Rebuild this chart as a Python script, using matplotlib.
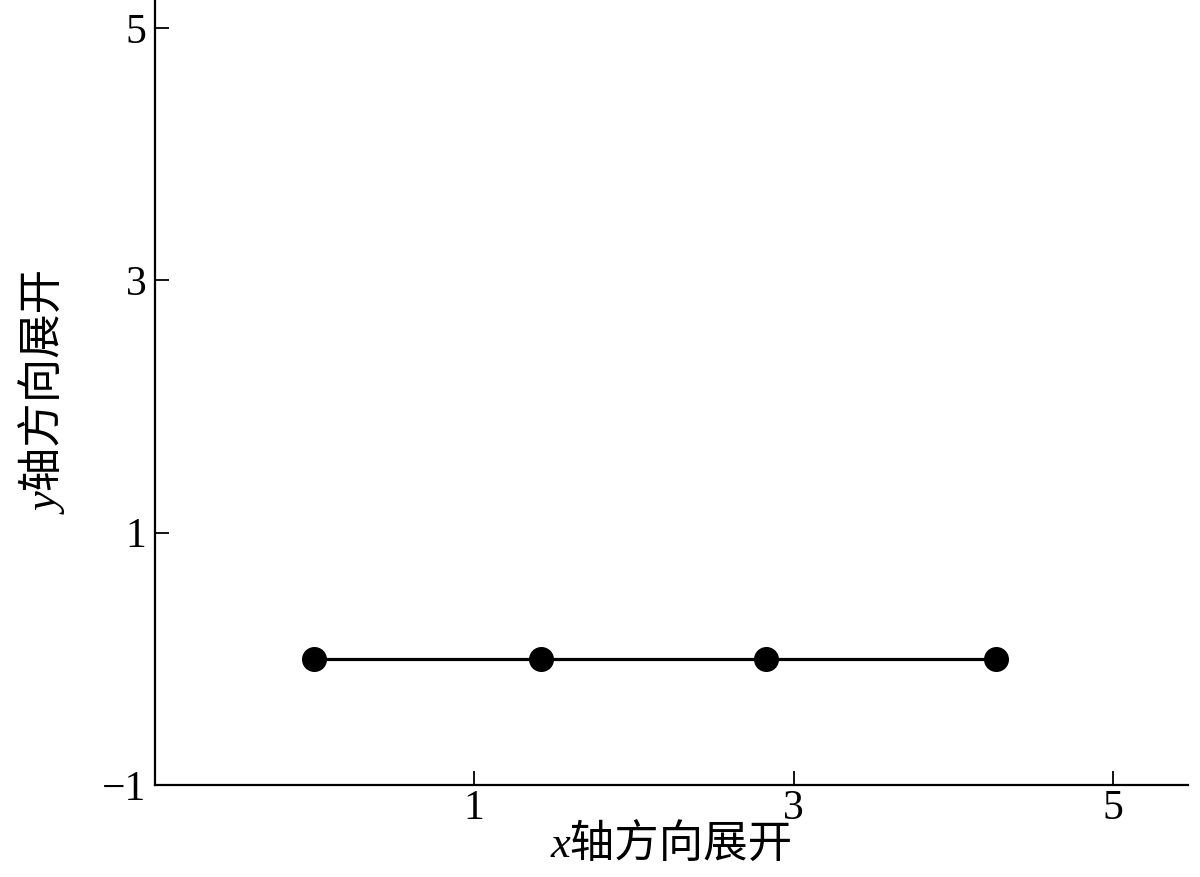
import matplotlib
matplotlib.use("Agg")
import matplotlib.pyplot as plt

# node positions along the unfolded line
x_pos = [0.0, 1.42, 2.83, 4.27]
y_pos = [0.0, 0.0, 0.0, 0.0]
x_ticks = [1, 3, 5]
y_ticks = [-1, 1, 3, 5]

fam = ['Liberation Serif', 'Noto Sans CJK SC']

fig = plt.figure(figsize=(12, 8.77), dpi=100)
ax = fig.add_axes([0.129, 0.105, 0.861, 0.895])

ax.plot(x_pos, y_pos, '-', color='black', linewidth=2.3,
        marker='o', markersize=17, markerfacecolor='black', markeredgecolor='black')

ax.set_xlim(-1, 5.47)
ax.set_ylim(-1, 5.22)
ax.set_xticks(x_ticks)
ax.set_yticks(y_ticks)
ax.set_xticklabels([str(v).replace('-', '\u2212') for v in x_ticks])
ax.set_yticklabels([str(v).replace('-', '\u2212') for v in y_ticks])

for side in ['top', 'right']:
    ax.spines[side].set_visible(False)
for side in ['left', 'bottom']:
    ax.spines[side].set_linewidth(1.6)

ax.tick_params(direction='in', length=10, width=1.3, labelsize=30)
ax.tick_params(axis='x', pad=3)
ax.tick_params(axis='y', pad=6)
for lbl in ax.get_xticklabels() + ax.get_yticklabels():
    lbl.set_family('Liberation Serif')

# italic only affects the latin letter, CJK font has no italic face
ax.set_xlabel('x轴方向展开', family=fam, style='italic', fontsize=32, labelpad=-2)
ax.set_ylabel('y轴方向展开', family=fam, style='italic', fontsize=32, labelpad=24)

fig.savefig('out.png', dpi=100)
